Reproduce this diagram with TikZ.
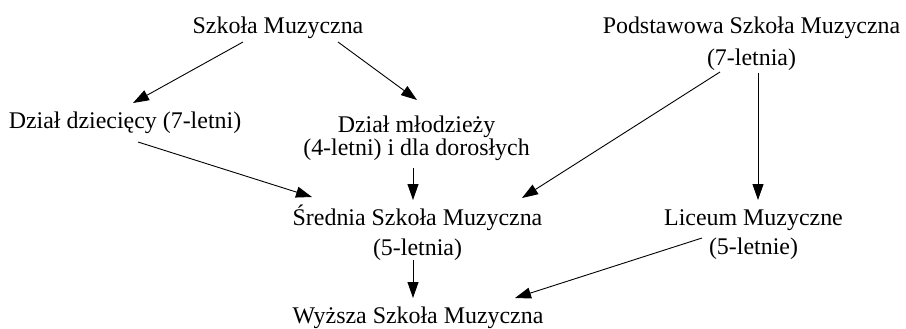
\documentclass[tikz,border=0pt]{standalone}
\usepackage{fontspec}
\setmainfont{Liberation Serif}
\usepackage{tikz}
\usetikzlibrary{arrows.meta}
\tikzset{t/.style={font=\fontsize{24}{24}\selectfont, inner sep=0pt, align=center, anchor=base}}
\tikzset{a/.style={-{Triangle[length=16bp,width=11bp]}, line width=0.9bp}}

\begin{document}
\begin{tikzpicture}[x=1bp,y=-1bp]
        \useasboundingbox (0,0) rectangle (906,328);
        % base = baseline of the last line
        \node[t] (S) at (278,33) {Szkoła Muzyczna};
        \node[t] (D) at (125,128) {Dział dziecięcy (7-letni)};
        \node[t] (M) at (416.5,155) {Dział młodzieży\\[-1bp](4-letni) i dla dorosłych};
        \node[t] (P) at (751.5,65) {Podstawowa Szkoła Muzyczna\\[8bp](7-letnia)};
        \node[t] (Sr) at (417.5,255) {Średnia Szkoła Muzyczna\\[6bp](5-letnia)};
        \node[t] (L) at (753.5,254) {Liceum Muzyczne\\[5bp](5-letnie)};
        \node[t] (W) at (418,323) {Wyższa Szkoła Muzyczna};
        \draw[a] ([shift={(-35,9)}]S.base) -- ([shift={(8,-25)}]D.base);
        \draw[a] ([shift={(60,9)}]S.base) -- ([shift={(0.5,-55)}]M.base);
        \draw[a] ([shift={(13,14)}]D.base) -- ([shift={(-105.5,-58)}]Sr.base);
        \draw[a] ([shift={(-3.5,13)}]M.base) -- ([shift={(-4.5,-55)}]Sr.base);
        \draw[a] ([shift={(-31.5,7)}]P.base) -- ([shift={(104.5,-57)}]Sr.base);
        \draw[a] ([shift={(6.5,8)}]P.base) -- ([shift={(4.5,-54)}]L.base);
        \draw[a] ([shift={(-4.5,5)}]Sr.base) -- ([shift={(-5,-25)}]W.base);
        \draw[a] ([shift={(-51.5,-16)}]L.base) -- ([shift={(97,-25)}]W.base);
      \end{tikzpicture}
\end{document}
